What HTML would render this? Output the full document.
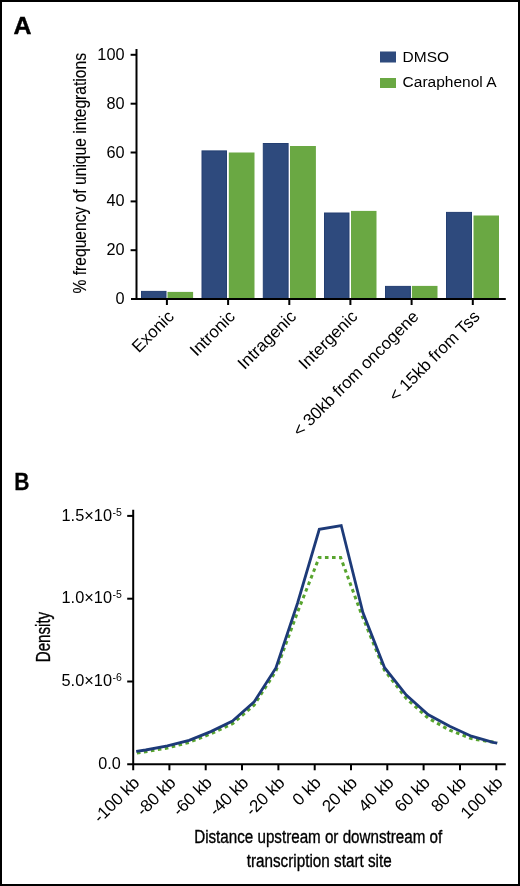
<!DOCTYPE html>
<html><head><meta charset="utf-8">
<style>
html,body{margin:0;padding:0;background:#fff;}
body{width:520px;height:886px;overflow:hidden;}
svg{display:block;will-change:transform;}
text{font-family:"Liberation Sans",sans-serif;fill:#000;}
.t{stroke:#000;stroke-width:0.35;}
</style></head>
<body>
<svg width="520" height="886" viewBox="0 0 520 886">
<rect x="1" y="1" width="518" height="884" fill="#fff" stroke="#000" stroke-width="2"/>

<!-- Panel labels -->
<text x="13.6" y="34" font-size="23.5" font-weight="bold" textLength="18" lengthAdjust="spacingAndGlyphs" style="stroke:#000;stroke-width:0.4">A</text>
<text x="14.2" y="489.8" font-size="23.5" font-weight="bold" textLength="15.2" lengthAdjust="spacingAndGlyphs" style="stroke:#000;stroke-width:0.3">B</text>

<!-- ===== Chart A ===== -->
<g id="chartA">
  <!-- bars -->
  <g fill="#2E4A7D" stroke="#243F72" stroke-width="1">
    <rect x="141.5" y="291.4" width="24.5" height="8"/>
    <rect x="202" y="150.9" width="24.5" height="148"/>
    <rect x="263.3" y="143.5" width="24.8" height="155"/>
    <rect x="324.5" y="213" width="24.5" height="86"/>
    <rect x="385.5" y="286.4" width="24.9" height="13"/>
    <rect x="446.5" y="212.4" width="25" height="87"/>
  </g>
  <g fill="#6AA843">
    <rect x="167.5" y="291.9" width="25.6" height="7.5"/>
    <rect x="228.8" y="152.5" width="25.7" height="147"/>
    <rect x="290" y="146" width="25.9" height="153"/>
    <rect x="351" y="210.9" width="25.5" height="88"/>
    <rect x="411.9" y="285.9" width="25.6" height="13.5"/>
    <rect x="473.5" y="215.5" width="25.5" height="84"/>
  </g>
  <!-- axes -->
  <g stroke="#000" stroke-width="2" fill="none">
    <line x1="136.5" y1="49" x2="136.5" y2="300"/>
    <line x1="131" y1="299" x2="505.8" y2="299"/>
    <line x1="130.6" y1="54.8" x2="136.5" y2="54.8"/>
    <line x1="130.6" y1="103.7" x2="136.5" y2="103.7"/>
    <line x1="130.6" y1="152.5" x2="136.5" y2="152.5"/>
    <line x1="130.6" y1="201.4" x2="136.5" y2="201.4"/>
    <line x1="130.6" y1="250.2" x2="136.5" y2="250.2"/>
    <line x1="166.9" y1="299" x2="166.9" y2="305"/>
    <line x1="228.1" y1="299" x2="228.1" y2="305"/>
    <line x1="289.3" y1="299" x2="289.3" y2="305"/>
    <line x1="350.4" y1="299" x2="350.4" y2="305"/>
    <line x1="411.6" y1="299" x2="411.6" y2="305"/>
    <line x1="472.8" y1="299" x2="472.8" y2="305"/>
  </g>
  <!-- y tick labels -->
  <g font-size="16.3" text-anchor="end">
    <text x="124.5" y="59.8">100</text>
    <text x="124.5" y="108.7">80</text>
    <text x="124.5" y="157.5">60</text>
    <text x="124.5" y="206.4">40</text>
    <text x="124.5" y="255.2">20</text>
    <text x="124.5" y="304">0</text>
  </g>
  <!-- y axis title -->
  <text transform="translate(86.2,293.5) rotate(-90)" font-size="18.8" style="stroke:#000;stroke-width:0.12" textLength="240.5" lengthAdjust="spacingAndGlyphs">% frequency of unique integrations</text>
  <!-- x labels -->
  <g font-size="17" text-anchor="end">
    <text transform="translate(174.9,317.5) rotate(-45)">Exonic</text>
    <text transform="translate(236.1,317.5) rotate(-45)">Intronic</text>
    <text transform="translate(297.3,317.5) rotate(-45)">Intragenic</text>
    <text transform="translate(358.4,317.5) rotate(-45)">Intergenic</text>
    <text transform="translate(419.6,317.5) rotate(-45)">&lt; 30kb from oncogene</text>
    <text transform="translate(480.8,317.5) rotate(-45)">&lt; 15kb from Tss</text>
  </g>
  <!-- legend -->
  <rect x="380" y="51.5" width="16" height="11" fill="#2E4A7D"/>
  <rect x="380" y="78" width="16" height="10" fill="#6AA843"/>
  <g font-size="15.5">
    <text x="402.6" y="62">DMSO</text>
    <text x="402.6" y="87.3">Caraphenol A</text>
  </g>
</g>

<!-- ===== Chart B ===== -->
<g id="chartB">
  <!-- curves -->
  <polyline fill="none" stroke="#58A42E" stroke-width="3" stroke-dasharray="3.6 3.47" stroke-dashoffset="6.4"
    points="136.2,753.1 145.7,751.7 167.4,748 189.1,742.4 210.8,733.8 232.5,723.8 254.2,705 275.9,671 297.6,612 319.2,557.4 340.6,557.4 361.8,615 384.3,670 406.3,698.5 428,718 449.7,730.2 471.4,738.6 480,740.2 493.1,742.1 497.2,742.9"/>
  <polyline fill="none" stroke="#1D3A78" stroke-width="2.8" stroke-linejoin="miter"
    points="136.2,751.3 145.7,750 167.4,745.9 189.1,740.4 210.8,731.6 232.5,721.1 254.2,701.8 275.9,668 297.6,603 319.3,529.3 341.2,525.5 362.9,612.5 384.6,667.7 406.3,695 428,714.6 449.7,726.2 471.4,736.2 493.1,742.3 497.2,743.2"/>
  <!-- axes -->
  <g stroke="#000" stroke-width="2" fill="none">
    <line x1="133.2" y1="509.8" x2="133.2" y2="770.3"/>
    <line x1="127.2" y1="764.2" x2="505.8" y2="764.2"/>
    <line x1="127.2" y1="515.9" x2="133.2" y2="515.9"/>
    <line x1="127.2" y1="598.7" x2="133.2" y2="598.7"/>
    <line x1="127.2" y1="681.5" x2="133.2" y2="681.5"/>
    <line x1="169.4" y1="764.2" x2="169.4" y2="770.3"/>
    <line x1="205.7" y1="764.2" x2="205.7" y2="770.3"/>
    <line x1="242.0" y1="764.2" x2="242.0" y2="770.3"/>
    <line x1="278.4" y1="764.2" x2="278.4" y2="770.3"/>
    <line x1="314.7" y1="764.2" x2="314.7" y2="770.3"/>
    <line x1="351.0" y1="764.2" x2="351.0" y2="770.3"/>
    <line x1="387.3" y1="764.2" x2="387.3" y2="770.3"/>
    <line x1="423.6" y1="764.2" x2="423.6" y2="770.3"/>
    <line x1="460.0" y1="764.2" x2="460.0" y2="770.3"/>
    <line x1="496.3" y1="764.2" x2="496.3" y2="770.3"/>
  </g>
  <!-- y tick labels -->
  <g font-size="15.8">
    <text x="61.5" y="520.6" textLength="50.5" lengthAdjust="spacingAndGlyphs">1.5×10</text>
    <text x="61.5" y="603.4" textLength="50.5" lengthAdjust="spacingAndGlyphs">1.0×10</text>
    <text x="61.5" y="686.2" textLength="50.5" lengthAdjust="spacingAndGlyphs">5.0×10</text>
    <text x="98.3" y="769" textLength="22.5" lengthAdjust="spacingAndGlyphs">0.0</text>
  </g>
  <g font-size="10.5">
    <text x="112.6" y="515.6">-5</text>
    <text x="112.6" y="598.4">-5</text>
    <text x="112.6" y="681.2">-6</text>
  </g>
  <text class="t" transform="translate(49.8,662.3) rotate(-90)" font-size="20" textLength="50.5" lengthAdjust="spacingAndGlyphs">Density</text>
  <!-- x labels -->
  <g font-size="17" text-anchor="end">
    <text transform="translate(140.4,783.7) rotate(-45)">-100 kb</text>
    <text transform="translate(176.7,783.7) rotate(-45)">-80 kb</text>
    <text transform="translate(213.0,783.7) rotate(-45)">-60 kb</text>
    <text transform="translate(249.4,783.7) rotate(-45)">-40 kb</text>
    <text transform="translate(285.7,783.7) rotate(-45)">-20 kb</text>
    <text transform="translate(322.0,783.7) rotate(-45)">0 kb</text>
    <text transform="translate(358.3,783.7) rotate(-45)">20 kb</text>
    <text transform="translate(394.6,783.7) rotate(-45)">40 kb</text>
    <text transform="translate(431.0,783.7) rotate(-45)">60 kb</text>
    <text transform="translate(467.3,783.7) rotate(-45)">80 kb</text>
    <text transform="translate(503.6,783.7) rotate(-45)">100 kb</text>
  </g>
  <!-- x title -->
  <text class="t" x="194.2" y="843" font-size="18" textLength="248" lengthAdjust="spacingAndGlyphs">Distance upstream or downstream of</text>
  <text class="t" x="246.7" y="867" font-size="18" textLength="145" lengthAdjust="spacingAndGlyphs">transcription start site</text>
</g>
</svg>
</body></html>
